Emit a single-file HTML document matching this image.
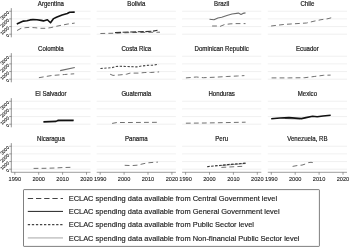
<!DOCTYPE html><html><head><meta charset="utf-8"><style>html,body{margin:0;padding:0;background:#fff;width:350px;height:248px;overflow:hidden}svg{display:block}text{font-family:"Liberation Sans",Arial,sans-serif;fill:#222}</style></head><body>
<svg width="350" height="248" viewBox="0 0 350 248">
<rect width="350" height="248" fill="#fff"/>
<line x1="11.30" y1="34.20" x2="90.50" y2="34.20" stroke="#e6e6e6" stroke-width="0.6"/>
<line x1="11.30" y1="26.55" x2="90.50" y2="26.55" stroke="#e6e6e6" stroke-width="0.6"/>
<line x1="11.30" y1="18.90" x2="90.50" y2="18.90" stroke="#e6e6e6" stroke-width="0.6"/>
<line x1="11.30" y1="11.25" x2="90.50" y2="11.25" stroke="#e6e6e6" stroke-width="0.6"/>
<text x="50.90" y="5.90" font-size="6.5" textLength="26.11" lengthAdjust="spacingAndGlyphs" text-anchor="middle" stroke="#222" stroke-width="0.2">Argentina</text>
<line x1="11.30" y1="8.15" x2="11.30" y2="37.30" stroke="#5a5a5a" stroke-width="0.65"/>
<line x1="9.20" y1="34.20" x2="11.30" y2="34.20" stroke="#5a5a5a" stroke-width="0.6"/>
<text x="8.40" y="34.70" font-size="4.6" text-anchor="end" dominant-baseline="central" stroke="#333" stroke-width="0.12" transform="rotate(-45 8.40 34.70)">0</text>
<line x1="9.20" y1="26.55" x2="11.30" y2="26.55" stroke="#5a5a5a" stroke-width="0.6"/>
<text x="8.40" y="27.05" font-size="4.6" text-anchor="end" dominant-baseline="central" stroke="#333" stroke-width="0.12" transform="rotate(-45 8.40 27.05)">1000</text>
<line x1="9.20" y1="18.90" x2="11.30" y2="18.90" stroke="#5a5a5a" stroke-width="0.6"/>
<text x="8.40" y="19.40" font-size="4.6" text-anchor="end" dominant-baseline="central" stroke="#333" stroke-width="0.12" transform="rotate(-45 8.40 19.40)">2000</text>
<line x1="9.20" y1="11.25" x2="11.30" y2="11.25" stroke="#5a5a5a" stroke-width="0.6"/>
<text x="8.40" y="11.75" font-size="4.6" text-anchor="end" dominant-baseline="central" stroke="#333" stroke-width="0.12" transform="rotate(-45 8.40 11.75)">3000</text>
<line x1="96.70" y1="34.20" x2="175.90" y2="34.20" stroke="#e6e6e6" stroke-width="0.6"/>
<line x1="96.70" y1="26.55" x2="175.90" y2="26.55" stroke="#e6e6e6" stroke-width="0.6"/>
<line x1="96.70" y1="18.90" x2="175.90" y2="18.90" stroke="#e6e6e6" stroke-width="0.6"/>
<line x1="96.70" y1="11.25" x2="175.90" y2="11.25" stroke="#e6e6e6" stroke-width="0.6"/>
<text x="136.30" y="5.90" font-size="6.5" textLength="17.97" lengthAdjust="spacingAndGlyphs" text-anchor="middle" stroke="#222" stroke-width="0.2">Bolivia</text>
<line x1="182.10" y1="34.20" x2="261.30" y2="34.20" stroke="#e6e6e6" stroke-width="0.6"/>
<line x1="182.10" y1="26.55" x2="261.30" y2="26.55" stroke="#e6e6e6" stroke-width="0.6"/>
<line x1="182.10" y1="18.90" x2="261.30" y2="18.90" stroke="#e6e6e6" stroke-width="0.6"/>
<line x1="182.10" y1="11.25" x2="261.30" y2="11.25" stroke="#e6e6e6" stroke-width="0.6"/>
<text x="221.70" y="5.90" font-size="6.5" textLength="15.25" lengthAdjust="spacingAndGlyphs" text-anchor="middle" stroke="#222" stroke-width="0.2">Brazil</text>
<line x1="267.80" y1="34.20" x2="347.00" y2="34.20" stroke="#e6e6e6" stroke-width="0.6"/>
<line x1="267.80" y1="26.55" x2="347.00" y2="26.55" stroke="#e6e6e6" stroke-width="0.6"/>
<line x1="267.80" y1="18.90" x2="347.00" y2="18.90" stroke="#e6e6e6" stroke-width="0.6"/>
<line x1="267.80" y1="11.25" x2="347.00" y2="11.25" stroke="#e6e6e6" stroke-width="0.6"/>
<text x="307.40" y="5.90" font-size="6.5" textLength="13.90" lengthAdjust="spacingAndGlyphs" text-anchor="middle" stroke="#222" stroke-width="0.2">Chile</text>
<line x1="11.30" y1="79.20" x2="90.50" y2="79.20" stroke="#e6e6e6" stroke-width="0.6"/>
<line x1="11.30" y1="71.55" x2="90.50" y2="71.55" stroke="#e6e6e6" stroke-width="0.6"/>
<line x1="11.30" y1="63.90" x2="90.50" y2="63.90" stroke="#e6e6e6" stroke-width="0.6"/>
<line x1="11.30" y1="56.25" x2="90.50" y2="56.25" stroke="#e6e6e6" stroke-width="0.6"/>
<text x="50.90" y="50.90" font-size="6.5" textLength="25.77" lengthAdjust="spacingAndGlyphs" text-anchor="middle" stroke="#222" stroke-width="0.2">Colombia</text>
<line x1="11.30" y1="53.15" x2="11.30" y2="82.30" stroke="#5a5a5a" stroke-width="0.65"/>
<line x1="9.20" y1="79.20" x2="11.30" y2="79.20" stroke="#5a5a5a" stroke-width="0.6"/>
<text x="8.40" y="79.70" font-size="4.6" text-anchor="end" dominant-baseline="central" stroke="#333" stroke-width="0.12" transform="rotate(-45 8.40 79.70)">0</text>
<line x1="9.20" y1="71.55" x2="11.30" y2="71.55" stroke="#5a5a5a" stroke-width="0.6"/>
<text x="8.40" y="72.05" font-size="4.6" text-anchor="end" dominant-baseline="central" stroke="#333" stroke-width="0.12" transform="rotate(-45 8.40 72.05)">1000</text>
<line x1="9.20" y1="63.90" x2="11.30" y2="63.90" stroke="#5a5a5a" stroke-width="0.6"/>
<text x="8.40" y="64.40" font-size="4.6" text-anchor="end" dominant-baseline="central" stroke="#333" stroke-width="0.12" transform="rotate(-45 8.40 64.40)">2000</text>
<line x1="9.20" y1="56.25" x2="11.30" y2="56.25" stroke="#5a5a5a" stroke-width="0.6"/>
<text x="8.40" y="56.75" font-size="4.6" text-anchor="end" dominant-baseline="central" stroke="#333" stroke-width="0.12" transform="rotate(-45 8.40 56.75)">3000</text>
<line x1="96.70" y1="79.20" x2="175.90" y2="79.20" stroke="#e6e6e6" stroke-width="0.6"/>
<line x1="96.70" y1="71.55" x2="175.90" y2="71.55" stroke="#e6e6e6" stroke-width="0.6"/>
<line x1="96.70" y1="63.90" x2="175.90" y2="63.90" stroke="#e6e6e6" stroke-width="0.6"/>
<line x1="96.70" y1="56.25" x2="175.90" y2="56.25" stroke="#e6e6e6" stroke-width="0.6"/>
<text x="136.30" y="50.90" font-size="6.5" textLength="29.83" lengthAdjust="spacingAndGlyphs" text-anchor="middle" stroke="#222" stroke-width="0.2">Costa Rica</text>
<line x1="182.10" y1="79.20" x2="261.30" y2="79.20" stroke="#e6e6e6" stroke-width="0.6"/>
<line x1="182.10" y1="71.55" x2="261.30" y2="71.55" stroke="#e6e6e6" stroke-width="0.6"/>
<line x1="182.10" y1="63.90" x2="261.30" y2="63.90" stroke="#e6e6e6" stroke-width="0.6"/>
<line x1="182.10" y1="56.25" x2="261.30" y2="56.25" stroke="#e6e6e6" stroke-width="0.6"/>
<text x="221.70" y="50.90" font-size="6.5" textLength="54.25" lengthAdjust="spacingAndGlyphs" text-anchor="middle" stroke="#222" stroke-width="0.2">Dominican Republic</text>
<line x1="267.80" y1="79.20" x2="347.00" y2="79.20" stroke="#e6e6e6" stroke-width="0.6"/>
<line x1="267.80" y1="71.55" x2="347.00" y2="71.55" stroke="#e6e6e6" stroke-width="0.6"/>
<line x1="267.80" y1="63.90" x2="347.00" y2="63.90" stroke="#e6e6e6" stroke-width="0.6"/>
<line x1="267.80" y1="56.25" x2="347.00" y2="56.25" stroke="#e6e6e6" stroke-width="0.6"/>
<text x="307.40" y="50.90" font-size="6.5" textLength="22.72" lengthAdjust="spacingAndGlyphs" text-anchor="middle" stroke="#222" stroke-width="0.2">Ecuador</text>
<line x1="11.30" y1="124.20" x2="90.50" y2="124.20" stroke="#e6e6e6" stroke-width="0.6"/>
<line x1="11.30" y1="116.55" x2="90.50" y2="116.55" stroke="#e6e6e6" stroke-width="0.6"/>
<line x1="11.30" y1="108.90" x2="90.50" y2="108.90" stroke="#e6e6e6" stroke-width="0.6"/>
<line x1="11.30" y1="101.25" x2="90.50" y2="101.25" stroke="#e6e6e6" stroke-width="0.6"/>
<text x="50.90" y="95.90" font-size="6.5" textLength="31.19" lengthAdjust="spacingAndGlyphs" text-anchor="middle" stroke="#222" stroke-width="0.2">El Salvador</text>
<line x1="11.30" y1="98.15" x2="11.30" y2="127.30" stroke="#5a5a5a" stroke-width="0.65"/>
<line x1="9.20" y1="124.20" x2="11.30" y2="124.20" stroke="#5a5a5a" stroke-width="0.6"/>
<text x="8.40" y="124.70" font-size="4.6" text-anchor="end" dominant-baseline="central" stroke="#333" stroke-width="0.12" transform="rotate(-45 8.40 124.70)">0</text>
<line x1="9.20" y1="116.55" x2="11.30" y2="116.55" stroke="#5a5a5a" stroke-width="0.6"/>
<text x="8.40" y="117.05" font-size="4.6" text-anchor="end" dominant-baseline="central" stroke="#333" stroke-width="0.12" transform="rotate(-45 8.40 117.05)">1000</text>
<line x1="9.20" y1="108.90" x2="11.30" y2="108.90" stroke="#5a5a5a" stroke-width="0.6"/>
<text x="8.40" y="109.40" font-size="4.6" text-anchor="end" dominant-baseline="central" stroke="#333" stroke-width="0.12" transform="rotate(-45 8.40 109.40)">2000</text>
<line x1="9.20" y1="101.25" x2="11.30" y2="101.25" stroke="#5a5a5a" stroke-width="0.6"/>
<text x="8.40" y="101.75" font-size="4.6" text-anchor="end" dominant-baseline="central" stroke="#333" stroke-width="0.12" transform="rotate(-45 8.40 101.75)">3000</text>
<line x1="96.70" y1="124.20" x2="175.90" y2="124.20" stroke="#e6e6e6" stroke-width="0.6"/>
<line x1="96.70" y1="116.55" x2="175.90" y2="116.55" stroke="#e6e6e6" stroke-width="0.6"/>
<line x1="96.70" y1="108.90" x2="175.90" y2="108.90" stroke="#e6e6e6" stroke-width="0.6"/>
<line x1="96.70" y1="101.25" x2="175.90" y2="101.25" stroke="#e6e6e6" stroke-width="0.6"/>
<text x="136.30" y="95.90" font-size="6.5" textLength="29.84" lengthAdjust="spacingAndGlyphs" text-anchor="middle" stroke="#222" stroke-width="0.2">Guatemala</text>
<line x1="182.10" y1="124.20" x2="261.30" y2="124.20" stroke="#e6e6e6" stroke-width="0.6"/>
<line x1="182.10" y1="116.55" x2="261.30" y2="116.55" stroke="#e6e6e6" stroke-width="0.6"/>
<line x1="182.10" y1="108.90" x2="261.30" y2="108.90" stroke="#e6e6e6" stroke-width="0.6"/>
<line x1="182.10" y1="101.25" x2="261.30" y2="101.25" stroke="#e6e6e6" stroke-width="0.6"/>
<text x="221.70" y="95.90" font-size="6.5" textLength="26.45" lengthAdjust="spacingAndGlyphs" text-anchor="middle" stroke="#222" stroke-width="0.2">Honduras</text>
<line x1="267.80" y1="124.20" x2="347.00" y2="124.20" stroke="#e6e6e6" stroke-width="0.6"/>
<line x1="267.80" y1="116.55" x2="347.00" y2="116.55" stroke="#e6e6e6" stroke-width="0.6"/>
<line x1="267.80" y1="108.90" x2="347.00" y2="108.90" stroke="#e6e6e6" stroke-width="0.6"/>
<line x1="267.80" y1="101.25" x2="347.00" y2="101.25" stroke="#e6e6e6" stroke-width="0.6"/>
<text x="307.40" y="95.90" font-size="6.5" textLength="19.32" lengthAdjust="spacingAndGlyphs" text-anchor="middle" stroke="#222" stroke-width="0.2">Mexico</text>
<line x1="11.30" y1="169.20" x2="90.50" y2="169.20" stroke="#e6e6e6" stroke-width="0.6"/>
<line x1="11.30" y1="161.55" x2="90.50" y2="161.55" stroke="#e6e6e6" stroke-width="0.6"/>
<line x1="11.30" y1="153.90" x2="90.50" y2="153.90" stroke="#e6e6e6" stroke-width="0.6"/>
<line x1="11.30" y1="146.25" x2="90.50" y2="146.25" stroke="#e6e6e6" stroke-width="0.6"/>
<text x="50.90" y="140.90" font-size="6.5" textLength="27.80" lengthAdjust="spacingAndGlyphs" text-anchor="middle" stroke="#222" stroke-width="0.2">Nicaragua</text>
<line x1="11.30" y1="143.15" x2="11.30" y2="172.30" stroke="#5a5a5a" stroke-width="0.65"/>
<line x1="9.20" y1="169.20" x2="11.30" y2="169.20" stroke="#5a5a5a" stroke-width="0.6"/>
<text x="8.40" y="169.70" font-size="4.6" text-anchor="end" dominant-baseline="central" stroke="#333" stroke-width="0.12" transform="rotate(-45 8.40 169.70)">0</text>
<line x1="9.20" y1="161.55" x2="11.30" y2="161.55" stroke="#5a5a5a" stroke-width="0.6"/>
<text x="8.40" y="162.05" font-size="4.6" text-anchor="end" dominant-baseline="central" stroke="#333" stroke-width="0.12" transform="rotate(-45 8.40 162.05)">1000</text>
<line x1="9.20" y1="153.90" x2="11.30" y2="153.90" stroke="#5a5a5a" stroke-width="0.6"/>
<text x="8.40" y="154.40" font-size="4.6" text-anchor="end" dominant-baseline="central" stroke="#333" stroke-width="0.12" transform="rotate(-45 8.40 154.40)">2000</text>
<line x1="9.20" y1="146.25" x2="11.30" y2="146.25" stroke="#5a5a5a" stroke-width="0.6"/>
<text x="8.40" y="146.75" font-size="4.6" text-anchor="end" dominant-baseline="central" stroke="#333" stroke-width="0.12" transform="rotate(-45 8.40 146.75)">3000</text>
<line x1="11.30" y1="172.30" x2="90.50" y2="172.30" stroke="#5a5a5a" stroke-width="0.6"/>
<line x1="14.80" y1="172.30" x2="14.80" y2="174.70" stroke="#5a5a5a" stroke-width="0.6"/>
<text x="14.80" y="180.65" font-size="6.0" textLength="12.5" lengthAdjust="spacingAndGlyphs" text-anchor="middle" stroke="#222" stroke-width="0.1">1990</text>
<line x1="38.70" y1="172.30" x2="38.70" y2="174.70" stroke="#5a5a5a" stroke-width="0.6"/>
<text x="38.70" y="180.65" font-size="6.0" textLength="12.5" lengthAdjust="spacingAndGlyphs" text-anchor="middle" stroke="#222" stroke-width="0.1">2000</text>
<line x1="62.60" y1="172.30" x2="62.60" y2="174.70" stroke="#5a5a5a" stroke-width="0.6"/>
<text x="62.60" y="180.65" font-size="6.0" textLength="12.5" lengthAdjust="spacingAndGlyphs" text-anchor="middle" stroke="#222" stroke-width="0.1">2010</text>
<line x1="86.50" y1="172.30" x2="86.50" y2="174.70" stroke="#5a5a5a" stroke-width="0.6"/>
<text x="86.50" y="180.65" font-size="6.0" textLength="12.5" lengthAdjust="spacingAndGlyphs" text-anchor="middle" stroke="#222" stroke-width="0.1">2020</text>
<line x1="96.70" y1="169.20" x2="175.90" y2="169.20" stroke="#e6e6e6" stroke-width="0.6"/>
<line x1="96.70" y1="161.55" x2="175.90" y2="161.55" stroke="#e6e6e6" stroke-width="0.6"/>
<line x1="96.70" y1="153.90" x2="175.90" y2="153.90" stroke="#e6e6e6" stroke-width="0.6"/>
<line x1="96.70" y1="146.25" x2="175.90" y2="146.25" stroke="#e6e6e6" stroke-width="0.6"/>
<text x="136.30" y="140.90" font-size="6.5" textLength="22.72" lengthAdjust="spacingAndGlyphs" text-anchor="middle" stroke="#222" stroke-width="0.2">Panama</text>
<line x1="96.70" y1="172.30" x2="175.90" y2="172.30" stroke="#5a5a5a" stroke-width="0.6"/>
<line x1="100.20" y1="172.30" x2="100.20" y2="174.70" stroke="#5a5a5a" stroke-width="0.6"/>
<text x="100.20" y="180.65" font-size="6.0" textLength="12.5" lengthAdjust="spacingAndGlyphs" text-anchor="middle" stroke="#222" stroke-width="0.1">1990</text>
<line x1="124.10" y1="172.30" x2="124.10" y2="174.70" stroke="#5a5a5a" stroke-width="0.6"/>
<text x="124.10" y="180.65" font-size="6.0" textLength="12.5" lengthAdjust="spacingAndGlyphs" text-anchor="middle" stroke="#222" stroke-width="0.1">2000</text>
<line x1="148.00" y1="172.30" x2="148.00" y2="174.70" stroke="#5a5a5a" stroke-width="0.6"/>
<text x="148.00" y="180.65" font-size="6.0" textLength="12.5" lengthAdjust="spacingAndGlyphs" text-anchor="middle" stroke="#222" stroke-width="0.1">2010</text>
<line x1="171.90" y1="172.30" x2="171.90" y2="174.70" stroke="#5a5a5a" stroke-width="0.6"/>
<text x="171.90" y="180.65" font-size="6.0" textLength="12.5" lengthAdjust="spacingAndGlyphs" text-anchor="middle" stroke="#222" stroke-width="0.1">2020</text>
<line x1="182.10" y1="169.20" x2="261.30" y2="169.20" stroke="#e6e6e6" stroke-width="0.6"/>
<line x1="182.10" y1="161.55" x2="261.30" y2="161.55" stroke="#e6e6e6" stroke-width="0.6"/>
<line x1="182.10" y1="153.90" x2="261.30" y2="153.90" stroke="#e6e6e6" stroke-width="0.6"/>
<line x1="182.10" y1="146.25" x2="261.30" y2="146.25" stroke="#e6e6e6" stroke-width="0.6"/>
<text x="221.70" y="140.90" font-size="6.5" textLength="12.88" lengthAdjust="spacingAndGlyphs" text-anchor="middle" stroke="#222" stroke-width="0.2">Peru</text>
<line x1="182.10" y1="172.30" x2="261.30" y2="172.30" stroke="#5a5a5a" stroke-width="0.6"/>
<line x1="185.60" y1="172.30" x2="185.60" y2="174.70" stroke="#5a5a5a" stroke-width="0.6"/>
<text x="185.60" y="180.65" font-size="6.0" textLength="12.5" lengthAdjust="spacingAndGlyphs" text-anchor="middle" stroke="#222" stroke-width="0.1">1990</text>
<line x1="209.50" y1="172.30" x2="209.50" y2="174.70" stroke="#5a5a5a" stroke-width="0.6"/>
<text x="209.50" y="180.65" font-size="6.0" textLength="12.5" lengthAdjust="spacingAndGlyphs" text-anchor="middle" stroke="#222" stroke-width="0.1">2000</text>
<line x1="233.40" y1="172.30" x2="233.40" y2="174.70" stroke="#5a5a5a" stroke-width="0.6"/>
<text x="233.40" y="180.65" font-size="6.0" textLength="12.5" lengthAdjust="spacingAndGlyphs" text-anchor="middle" stroke="#222" stroke-width="0.1">2010</text>
<line x1="257.30" y1="172.30" x2="257.30" y2="174.70" stroke="#5a5a5a" stroke-width="0.6"/>
<text x="257.30" y="180.65" font-size="6.0" textLength="12.5" lengthAdjust="spacingAndGlyphs" text-anchor="middle" stroke="#222" stroke-width="0.1">2020</text>
<line x1="267.80" y1="169.20" x2="347.00" y2="169.20" stroke="#e6e6e6" stroke-width="0.6"/>
<line x1="267.80" y1="161.55" x2="347.00" y2="161.55" stroke="#e6e6e6" stroke-width="0.6"/>
<line x1="267.80" y1="153.90" x2="347.00" y2="153.90" stroke="#e6e6e6" stroke-width="0.6"/>
<line x1="267.80" y1="146.25" x2="347.00" y2="146.25" stroke="#e6e6e6" stroke-width="0.6"/>
<text x="307.40" y="140.90" font-size="6.5" textLength="40.35" lengthAdjust="spacingAndGlyphs" text-anchor="middle" stroke="#222" stroke-width="0.2">Venezuela, RB</text>
<line x1="267.80" y1="172.30" x2="347.00" y2="172.30" stroke="#5a5a5a" stroke-width="0.6"/>
<line x1="271.30" y1="172.30" x2="271.30" y2="174.70" stroke="#5a5a5a" stroke-width="0.6"/>
<text x="271.30" y="180.65" font-size="6.0" textLength="12.5" lengthAdjust="spacingAndGlyphs" text-anchor="middle" stroke="#222" stroke-width="0.1">1990</text>
<line x1="295.20" y1="172.30" x2="295.20" y2="174.70" stroke="#5a5a5a" stroke-width="0.6"/>
<text x="295.20" y="180.65" font-size="6.0" textLength="12.5" lengthAdjust="spacingAndGlyphs" text-anchor="middle" stroke="#222" stroke-width="0.1">2000</text>
<line x1="319.10" y1="172.30" x2="319.10" y2="174.70" stroke="#5a5a5a" stroke-width="0.6"/>
<text x="319.10" y="180.65" font-size="6.0" textLength="12.5" lengthAdjust="spacingAndGlyphs" text-anchor="middle" stroke="#222" stroke-width="0.1">2010</text>
<line x1="343.00" y1="172.30" x2="343.00" y2="174.70" stroke="#5a5a5a" stroke-width="0.6"/>
<text x="343.00" y="180.65" font-size="6.0" textLength="12.5" lengthAdjust="spacingAndGlyphs" text-anchor="middle" stroke="#222" stroke-width="0.1">2020</text>
<polyline points="16.80,24.00 20.60,22.20 23.40,21.10 27.00,20.80 30.00,19.90 33.00,19.60 37.00,19.70 41.10,20.40 43.40,20.90 47.40,19.80 50.50,22.80 53.60,18.60 56.40,17.20 62.10,14.90 67.30,13.50 69.60,12.30 74.70,12.10" fill="none" stroke="#111" stroke-width="1.6" stroke-linejoin="round"/>
<polyline points="17.10,30.50 21.10,28.30 25.10,27.70 29.10,27.40 34.90,27.70 40.60,28.30 46.30,28.30 50.90,27.60 56.40,26.30 62.10,25.10 67.90,24.00 74.70,23.10" fill="none" stroke="#717171" stroke-width="1" stroke-dasharray="4.8 3.2" stroke-linejoin="round"/>
<polyline points="100.40,33.50 115.00,33.20 130.00,32.60 145.00,32.40 160.00,32.20" fill="none" stroke="#717171" stroke-width="1" stroke-dasharray="4.8 3.2" stroke-linejoin="round"/>
<polyline points="115.00,32.60 130.00,32.00 145.00,31.60 153.00,31.10 157.50,30.20" fill="none" stroke="#333" stroke-width="1.1" stroke-dasharray="6 1.6" stroke-linejoin="round"/>
<polyline points="209.50,19.30 214.00,19.80 217.90,18.00 221.70,17.30 226.90,15.50 232.00,14.00 238.40,13.10 241.00,14.40 242.90,13.40 245.50,12.90" fill="none" stroke="#6a6a6a" stroke-width="1.1" stroke-linejoin="round"/>
<polyline points="212.10,26.00 217.50,26.00 219.80,26.50 224.50,24.60 230.00,23.90 236.00,23.60 245.50,23.60" fill="none" stroke="#717171" stroke-width="1" stroke-dasharray="4.8 3.2" stroke-linejoin="round"/>
<polyline points="271.10,26.00 284.40,24.40 297.00,23.60 306.50,23.00 314.00,21.20 321.00,19.70 328.00,18.70 331.20,17.80" fill="none" stroke="#717171" stroke-width="1" stroke-dasharray="4.8 3.2" stroke-linejoin="round"/>
<polyline points="60.10,70.60 74.80,67.50" fill="none" stroke="#6a6a6a" stroke-width="1.1" stroke-linejoin="round"/>
<polyline points="38.90,77.70 51.70,75.50 64.60,74.50 74.20,73.80" fill="none" stroke="#717171" stroke-width="1" stroke-dasharray="4.8 3.2" stroke-linejoin="round"/>
<polyline points="100.40,68.50 111.90,67.70 115.30,66.60 119.90,66.30 130.00,66.60 136.90,66.90 141.40,66.00 147.10,65.40 152.90,65.10 158.60,64.30" fill="none" stroke="#4a4a4a" stroke-width="1.1" stroke-dasharray="2.3 1.6" stroke-linejoin="round"/>
<polyline points="110.10,74.20 113.00,75.40 119.90,74.90 126.70,74.20 130.10,73.10 139.10,73.10 144.90,72.50 150.60,72.50 159.10,71.90" fill="none" stroke="#717171" stroke-width="1" stroke-dasharray="4.8 3.2" stroke-linejoin="round"/>
<polyline points="185.90,77.90 196.40,77.00 203.40,77.70 215.10,77.20 226.80,76.50 237.40,76.00 244.40,75.60" fill="none" stroke="#717171" stroke-width="1" stroke-dasharray="4.8 3.2" stroke-linejoin="round"/>
<polyline points="271.60,77.90 288.40,77.90 304.80,77.70 314.20,76.50 323.50,75.30 330.60,75.10" fill="none" stroke="#717171" stroke-width="1" stroke-dasharray="4.8 3.2" stroke-linejoin="round"/>
<polyline points="57.50,121.40 66.00,121.30 73.50,121.30" fill="none" stroke="#888" stroke-width="0.8" stroke-linejoin="round"/>
<polyline points="43.40,121.90 56.00,121.40 58.30,120.30 66.30,120.20 73.70,120.30" fill="none" stroke="#111" stroke-width="1.6" stroke-linejoin="round"/>
<polyline points="112.10,123.40 117.00,122.50 130.00,122.50 145.00,122.40 159.00,122.30" fill="none" stroke="#717171" stroke-width="1" stroke-dasharray="4.8 3.2" stroke-linejoin="round"/>
<polyline points="185.90,123.20 205.00,123.00 225.00,122.60 245.60,122.20" fill="none" stroke="#717171" stroke-width="1" stroke-dasharray="4.8 3.2" stroke-linejoin="round"/>
<polyline points="285.00,118.50 292.00,118.90 300.00,119.00" fill="none" stroke="#888" stroke-width="0.8" stroke-linejoin="round"/>
<polyline points="271.20,118.70 280.00,118.00 289.00,117.60 295.00,118.10 301.40,118.60 306.00,117.60 312.60,116.30 317.20,116.80 323.00,116.00 330.70,115.30" fill="none" stroke="#111" stroke-width="1.6" stroke-linejoin="round"/>
<polyline points="33.60,168.40 45.00,168.30 55.00,168.00 62.00,167.60 71.80,167.30" fill="none" stroke="#717171" stroke-width="1" stroke-dasharray="4.8 3.2" stroke-linejoin="round"/>
<polyline points="124.70,165.30 131.60,165.60 137.30,165.20 143.00,163.80 148.00,162.80 153.00,162.40 157.90,162.10" fill="none" stroke="#717171" stroke-width="1" stroke-dasharray="4.8 3.2" stroke-linejoin="round"/>
<polyline points="221.40,167.40 242.90,166.30" fill="none" stroke="#717171" stroke-width="1" stroke-dasharray="4.8 3.2" stroke-linejoin="round"/>
<polyline points="219.00,165.70 232.00,164.60 245.70,163.50" fill="none" stroke="#888" stroke-width="0.8" stroke-linejoin="round"/>
<polyline points="207.10,166.70 215.00,165.90 222.00,165.20 230.00,164.40 238.00,163.80 245.70,163.10" fill="none" stroke="#333" stroke-width="1.15" stroke-dasharray="2.6 1.4" stroke-linejoin="round"/>
<polyline points="292.60,166.40 298.00,165.40 302.00,165.10 306.00,163.80 308.50,162.60 311.00,162.30 315.40,163.00" fill="none" stroke="#717171" stroke-width="1" stroke-dasharray="4.8 3.2" stroke-linejoin="round"/>
<rect x="23.5" y="189.6" width="295.9" height="56.8" rx="0.6" fill="none" stroke="#3a3a3a" stroke-width="0.65"/>
<line x1="27.8" y1="198.5" x2="63" y2="198.5" stroke="#444" stroke-width="1" stroke-dasharray="5.3 2.9"/>
<text x="68.7" y="201.15" font-size="7.85" textLength="208.42" lengthAdjust="spacingAndGlyphs" stroke="#222" stroke-width="0.16">ECLAC spending data available from Central Government level</text>
<line x1="27.8" y1="211.4" x2="63" y2="211.4" stroke="#222" stroke-width="1"/>
<text x="68.7" y="214.05" font-size="7.85" textLength="210.90" lengthAdjust="spacingAndGlyphs" stroke="#222" stroke-width="0.16">ECLAC spending data available from General Government level</text>
<line x1="27.8" y1="224.7" x2="63" y2="224.7" stroke="#444" stroke-width="1.2" stroke-dasharray="2.3 1.75"/>
<text x="68.7" y="227.35" font-size="7.85" textLength="185.26" lengthAdjust="spacingAndGlyphs" stroke="#222" stroke-width="0.16">ECLAC spending data available from Public Sector level</text>
<line x1="27.8" y1="237.9" x2="63" y2="237.9" stroke="#cccccc" stroke-width="1.6"/>
<text x="68.7" y="240.55" font-size="7.85" textLength="230.75" lengthAdjust="spacingAndGlyphs" stroke="#222" stroke-width="0.16">ECLAC spending data available from Non-financial Public Sector level</text>
</svg></body></html>
